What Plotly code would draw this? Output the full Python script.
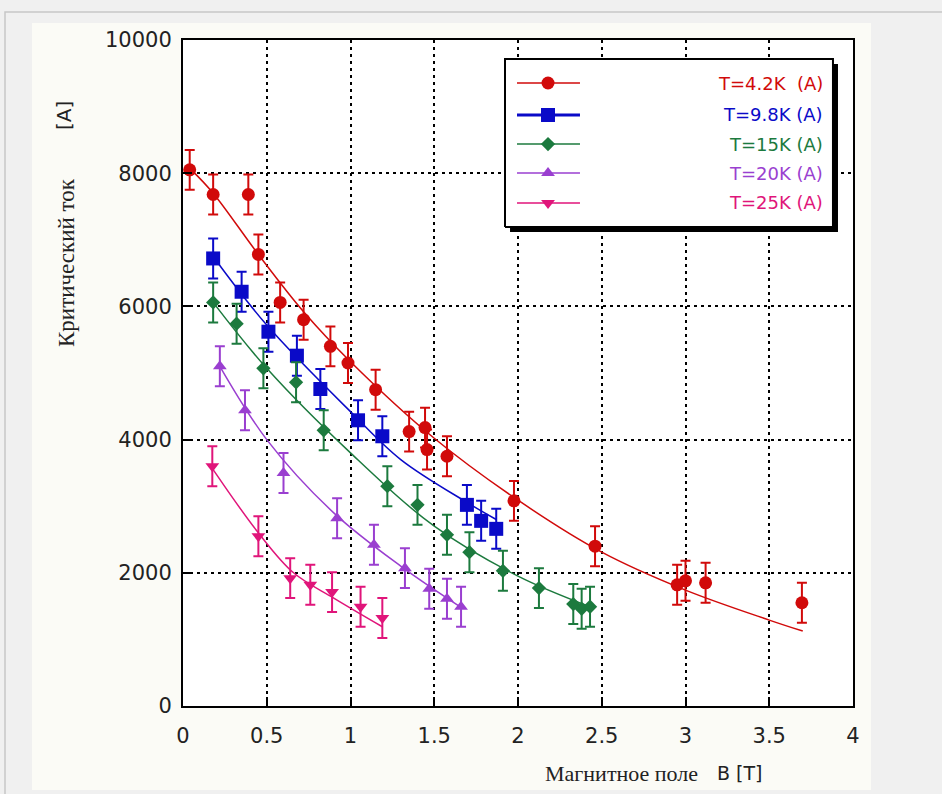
import plotly.graph_objects as go

# ---------------- data ----------------
B_42 = [0.04, 0.18, 0.39, 0.45, 0.58, 0.72, 0.88, 0.985, 1.15, 1.35, 1.445, 1.457, 1.576, 1.976, 2.46, 2.95, 3.0, 3.12, 3.695]
I_42 = [8050, 7680, 7680, 6780, 6060, 5800, 5400, 5150, 4750, 4120, 4180, 3850, 3750, 3080, 2400, 1820, 1880, 1850, 1550]
FIT_B_42 = [0.05, 0.18, 0.45, 0.72, 1.0, 1.5, 2.0, 2.5, 3.0, 3.5, 3.7]
FIT_I_42 = [8050, 7700, 6780, 5920, 5170, 4020, 3090, 2310, 1740, 1290, 1125]

B_98 = [0.18, 0.35, 0.51, 0.68, 0.82, 1.045, 1.19, 1.695, 1.78, 1.87]
I_98 = [6720, 6220, 5620, 5260, 4760, 4290, 4050, 3020, 2780, 2660]
FIT_B_98 = [0.18, 0.5, 1.0, 1.3, 1.7, 1.87]
FIT_I_98 = [6750, 5720, 4420, 3700, 3050, 2800]

B_15 = [0.18, 0.32, 0.48, 0.675, 0.84, 1.22, 1.40, 1.576, 1.71, 1.91, 2.125, 2.33, 2.38, 2.43]
I_15 = [6060, 5740, 5070, 4860, 4140, 3300, 3020, 2570, 2310, 2030, 1770, 1530, 1460, 1490]
FIT_B_15 = [0.18, 0.5, 1.0, 1.5, 2.0, 2.43]
FIT_I_15 = [6060, 5070, 3800, 2700, 1950, 1490]

B_20 = [0.22, 0.37, 0.6, 0.92, 1.14, 1.325, 1.47, 1.576, 1.66]
I_20 = [5100, 4440, 3500, 2820, 2420, 2070, 1760, 1610, 1490]
FIT_B_20 = [0.22, 0.5, 0.9, 1.3, 1.66]
FIT_I_20 = [5100, 4000, 2900, 2100, 1480]

B_25 = [0.175, 0.45, 0.64, 0.76, 0.89, 1.06, 1.19]
I_25 = [3600, 2550, 1920, 1820, 1710, 1490, 1320]
FIT_B_25 = [0.18, 0.45, 0.66, 0.9, 1.19]
FIT_I_25 = [3550, 2600, 2000, 1620, 1190]

ERR_A = 300

SERIES_NAMES = ["T=4.2K  (A)", "T=9.8K (A)", "T=15K (A)", "T=20K (A)", "T=25K (A)"]

XTICKS = [0, 0.5, 1, 1.5, 2, 2.5, 3, 3.5, 4]
XTICK_LABELS = ["0", "0.5", "1", "1.5", "2", "2.5", "3", "3.5", "4"]
YTICKS = [0, 2000, 4000, 6000, 8000, 10000]
YTICK_LABELS = ["0", "2000", "4000", "6000", "8000", "10000"]

X_TITLE = "Магнитное поле"
X_UNIT = "B [T]"
Y_TITLE = "Критический ток"
Y_UNIT = "[А]"

# ---------------- styles ----------------
STYLES = [
    dict(color="#d10a0a", symbol="circle", size=13, lw=1.5, leg_lw=1.5),
    dict(color="#0a0ac8", symbol="square", size=14, lw=1.5, leg_lw=3),
    dict(color="#1c7a3e", symbol="diamond", size=11, lw=1.5, leg_lw=1.5),
    dict(color="#9a3fd0", symbol="triangle-up", size=12, lw=1.5, leg_lw=1.5),
    dict(color="#e0157a", symbol="triangle-down", size=12, lw=1.5, leg_lw=1.5),
]

DATA = [
    (B_42, I_42, FIT_B_42, FIT_I_42),
    (B_98, I_98, FIT_B_98, FIT_I_98),
    (B_15, I_15, FIT_B_15, FIT_I_15),
    (B_20, I_20, FIT_B_20, FIT_I_20),
    (B_25, I_25, FIT_B_25, FIT_I_25),
]

fig = go.Figure()

for (bx, iy, fbx, fiy), st, name in zip(DATA, STYLES, SERIES_NAMES):
    fig.add_trace(go.Scatter(
        x=fbx, y=fiy, mode="lines", line=dict(color=st["color"], width=st["lw"], shape="spline"),
        showlegend=False, hoverinfo="skip"))
    fig.add_trace(go.Scatter(
        x=bx, y=iy, mode="markers", name=name,
        marker=dict(color=st["color"], symbol=st["symbol"], size=st["size"], line=dict(width=0)),
        error_y=dict(type="constant", value=ERR_A, color=st["color"], thickness=2, width=5),
        showlegend=False))

# ---------------- custom legend (plot-fraction coordinates on overlay axes) ----------------
BOX = (0.4806, 0.9701, 0.7192, 0.9715)
SH = 0.0075
ROWS = [0.9354, 0.8874, 0.8438, 0.8003, 0.7553]
LX0, LX1, MX = 0.4985, 0.5925, 0.5448
TX = 0.9585

x0, x1, y0, y1 = BOX
fig.add_trace(go.Scatter(x=[x0 + SH, x1 + SH, x1 + SH, x0 + SH, x0 + SH],
                         y=[y0 - SH, y0 - SH, y1 - SH, y1 - SH, y0 - SH],
                         fill="toself", fillcolor="black", mode="lines", line=dict(width=0, color="black"),
                         xaxis="x2", yaxis="y2", showlegend=False, hoverinfo="skip"))
fig.add_trace(go.Scatter(x=[x0, x1, x1, x0, x0], y=[y0, y0, y1, y1, y0],
                         fill="toself", fillcolor="white", mode="lines", line=dict(width=2, color="black"),
                         xaxis="x2", yaxis="y2", showlegend=False, hoverinfo="skip"))
for ry, st in zip(ROWS, STYLES):
    fig.add_trace(go.Scatter(x=[LX0, LX1], y=[ry, ry], mode="lines",
                             line=dict(color=st["color"], width=st["leg_lw"]),
                             xaxis="x2", yaxis="y2", showlegend=False, hoverinfo="skip"))
    fig.add_trace(go.Scatter(x=[MX], y=[ry], mode="markers",
                             marker=dict(color=st["color"], symbol=st["symbol"], size=st["size"], line=dict(width=0)),
                             xaxis="x2", yaxis="y2", showlegend=False, hoverinfo="skip"))

annotations = []
for ry, st, name in zip(ROWS, STYLES, SERIES_NAMES):
    annotations.append(dict(xref="paper", yref="paper", x=TX, y=ry, text=name, showarrow=False,
                            xanchor="right", yanchor="middle",
                            font=dict(family="DejaVu Sans", size=18, color=st["color"])))

# axis titles
annotations += [
    dict(xref="paper", yref="paper", x=(621 - 183) / 670, y=(706 - 773) / 666, text=X_TITLE, showarrow=False,
         xanchor="center", yanchor="middle", font=dict(family="Liberation Serif", size=22, color="#222")),
    dict(xref="paper", yref="paper", x=(740 - 183) / 670, y=(706 - 773) / 666, text=X_UNIT, showarrow=False,
         xanchor="center", yanchor="middle", font=dict(family="DejaVu Sans", size=19, color="#222")),
    dict(xref="paper", yref="paper", x=(66 - 183) / 670, y=(706 - 263) / 666, text=Y_TITLE, showarrow=False,
         textangle=-90, xanchor="center", yanchor="middle",
         font=dict(family="Liberation Serif", size=23, color="#222")),
    dict(xref="paper", yref="paper", x=(64 - 183) / 670, y=(706 - 116) / 666, text=Y_UNIT, showarrow=False,
         textangle=-90, xanchor="center", yanchor="middle",
         font=dict(family="DejaVu Sans", size=20, color="#222")),
]

shapes = [
    # cream panel
    dict(type="rect", xref="paper", yref="paper", x0=(32 - 183) / 670, x1=(871 - 183) / 670,
         y0=(706 - 790) / 666, y1=(706 - 23) / 666, fillcolor="#fbfbf6", line=dict(width=0), layer="below"),
    # plot area white
    dict(type="rect", xref="paper", yref="paper", x0=0, x1=1, y0=0, y1=1,
         fillcolor="#ffffff", line=dict(width=0), layer="below"),
    # outer frame line
    dict(type="rect", xref="paper", yref="paper", x0=(5 - 183) / 670, x1=1.3,
         y0=-0.3, y1=(706 - 12) / 666, fillcolor="rgba(0,0,0,0)", line=dict(width=1.5, color="#c6c6c6"),
         layer="below"),
]

axis_common = dict(
    showgrid=True, gridcolor="black", gridwidth=1.8, griddash="3px,4px",
    showline=True, mirror=True, linecolor="black", linewidth=2,
    ticks="inside", ticklen=9, tickwidth=1.5, tickcolor="black",
    tickfont=dict(family="DejaVu Sans", size=21, color="#222"),
    zeroline=False, fixedrange=True,
)

fig.update_layout(
    width=942, height=794,
    margin=dict(l=183, r=89, t=40, b=88),
    paper_bgcolor="#f0f0f0", plot_bgcolor="#ffffff",
    xaxis=dict(range=[0, 4], tickvals=XTICKS, ticktext=XTICK_LABELS, ticklabelstandoff=10, **axis_common),
    yaxis=dict(range=[0, 10000], tickvals=YTICKS, ticktext=YTICK_LABELS, ticklabelstandoff=5, **axis_common),
    xaxis2=dict(overlaying="x", range=[0, 1], visible=False, anchor="y2", fixedrange=True),
    yaxis2=dict(overlaying="y", range=[0, 1], visible=False, anchor="x2", fixedrange=True),
    annotations=annotations,
    shapes=shapes,
    showlegend=False,
)

fig.write_html("out.html")
